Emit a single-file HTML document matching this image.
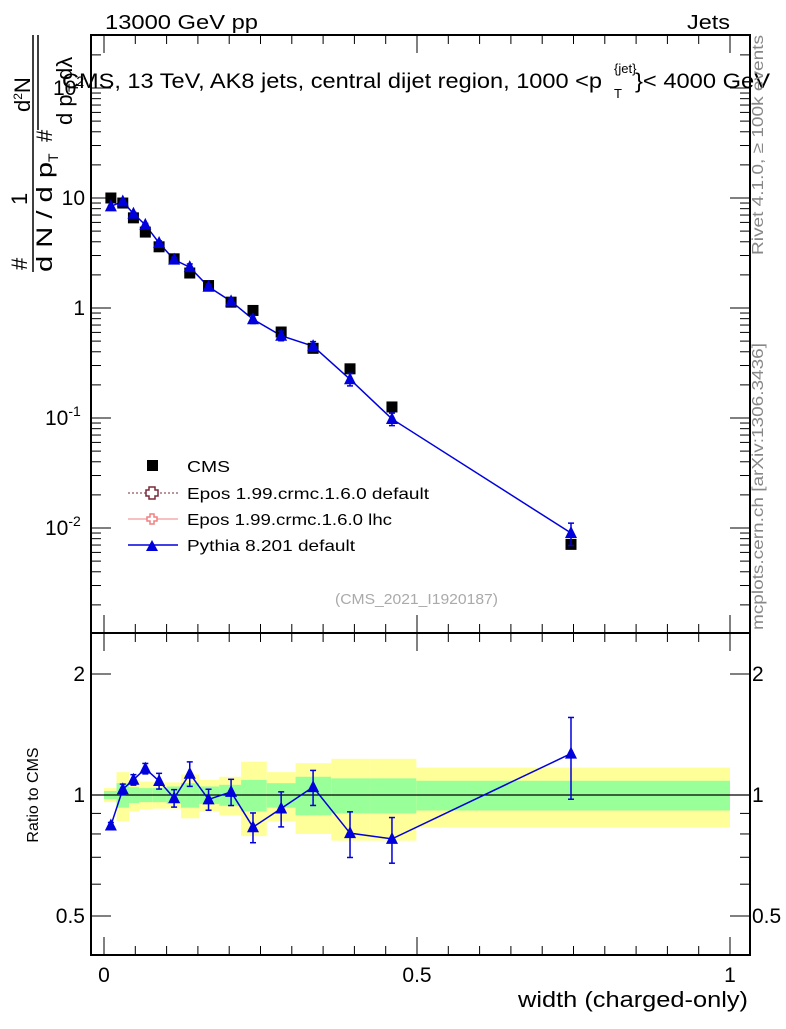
<!DOCTYPE html>
<html><head><meta charset="utf-8"><style>
body{margin:0;background:#fff;}
svg text{font-family:"Liberation Sans",sans-serif;}
</style></head><body>
<svg id="c" width="786" height="1024" xmlns="http://www.w3.org/2000/svg">
<g id="bands"></g>
<g id="grid"></g>
<g id="marks"></g>
<rect x="91" y="35" width="659" height="598" fill="none" stroke="#000" stroke-width="2"/>
<rect x="91" y="633" width="659" height="322" fill="none" stroke="#000" stroke-width="2"/>
<text x="105" y="29" font-size="20" textLength="153" lengthAdjust="spacingAndGlyphs">13000 GeV pp</text>
<text x="687" y="29" font-size="20" textLength="43" lengthAdjust="spacingAndGlyphs">Jets</text>
<text x="62" y="88" font-size="21" textLength="540" lengthAdjust="spacingAndGlyphs">CMS, 13 TeV, AK8 jets, central dijet region, 1000 &lt;p</text>
<text x="614" y="73" font-size="13">{jet}</text>
<text x="614" y="98" font-size="13">T</text>
<text x="635" y="88" font-size="21" textLength="135" lengthAdjust="spacingAndGlyphs">}&lt; 4000 GeV</text>
<g font-size="22">
<text transform="translate(27,270) rotate(-90)">#</text>
<text transform="translate(27,205) rotate(-90)">1</text>
<line x1="33" y1="272" x2="33" y2="35" stroke="#000" stroke-width="1.5"/>
<text transform="translate(52,272) rotate(-90)" textLength="110" lengthAdjust="spacingAndGlyphs">d N / d p</text>
<text transform="translate(58,162) rotate(-90)" font-size="14">T</text>
<text transform="translate(52,142) rotate(-90)">#</text>
<text transform="translate(30,112) rotate(-90)">d<tspan font-size="12" dy="-8">2</tspan><tspan dy="8">N</tspan></text>
<line x1="38" y1="130" x2="38" y2="35" stroke="#000" stroke-width="1.5"/>
<text transform="translate(72,125) rotate(-90)">d p</text>
<text transform="translate(78,92) rotate(-90)" font-size="14">T</text>
<text transform="translate(72,80) rotate(-90)">dλ</text>
</g>
<text transform="translate(763,255) rotate(-90)" font-size="16" fill="#888" textLength="220" lengthAdjust="spacingAndGlyphs">Rivet 4.1.0, ≥ 100k events</text>
<text transform="translate(763,630) rotate(-90)" font-size="16" fill="#888" textLength="287" lengthAdjust="spacingAndGlyphs">mcplots.cern.ch [arXiv:1306.3436]</text>
<text x="335" y="604" font-size="15" fill="#aaa" textLength="163" lengthAdjust="spacingAndGlyphs">(CMS_2021_I1920187)</text>
<text transform="translate(38,795) rotate(-90)" font-size="16" text-anchor="middle">Ratio to CMS</text>
<text x="518" y="1007" font-size="22" textLength="230" lengthAdjust="spacingAndGlyphs">width (charged-only)</text>
<g font-size="16">
<rect x="147" y="460" width="11" height="11" fill="#000"/>
<text x="187" y="472" textLength="43" lengthAdjust="spacingAndGlyphs">CMS</text>
<line x1="128" y1="493" x2="178" y2="493" stroke="#7a2a3a" stroke-dasharray="2,2"/>
<path d="M149 487h6v3h3v6h-3v3h-6v-3h-3v-6h3z" fill="#fff" stroke="#7a2a3a" stroke-width="1.5"/>
<text x="187" y="499" textLength="242" lengthAdjust="spacingAndGlyphs">Epos 1.99.crmc.1.6.0 default</text>
<line x1="128" y1="519" x2="178" y2="519" stroke="#f08080"/>
<path d="M150 514h4v3h3v4h-3v3h-4v-3h-3v-4h3z" fill="#fff" stroke="#f08080" stroke-width="1.5"/>
<text x="187" y="525" textLength="205" lengthAdjust="spacingAndGlyphs">Epos 1.99.crmc.1.6.0 lhc</text>
<line x1="128" y1="545" x2="178" y2="545" stroke="#0000dd" stroke-width="1.5"/>
<path d="M146 551l6-11 6 11z" fill="#0000dd"/>
<text x="187" y="551" textLength="168" lengthAdjust="spacingAndGlyphs">Pythia 8.201 default</text>
</g>
</svg>
<script>
const xVals=[0.011,0.030,0.047,0.066,0.088,0.112,0.137,0.167,0.203,0.238,0.283,0.334,0.393,0.460,0.746];
const binEdges=[0,0.02,0.04,0.056,0.078,0.1,0.123,0.152,0.184,0.219,0.26,0.306,0.363,0.425,0.499,1.0];
const cmsVals=[10,9.0,6.6,4.9,3.6,2.8,2.08,1.6,1.13,0.95,0.605,0.43,0.28,0.126,0.0071];
const pythiaVals=[8.4,9.3,7.2,5.7,3.9,2.75,2.35,1.56,1.15,0.79,0.56,0.45,0.225,0.098,0.009];
const pythiaRelErr=[0.017,0.03,0.03,0.03,0.045,0.05,0.07,0.06,0.075,0.085,0.1,0.1,0.13,0.13,0.23];
const yellowRel=[0.04,0.14,0.09,0.08,0.075,0.075,0.125,0.09,0.11,0.21,0.14,0.2,0.23,0.23,0.17];
const greenRel=[0.023,0.07,0.045,0.04,0.04,0.05,0.07,0.05,0.06,0.09,0.07,0.11,0.1,0.1,0.085];
const mainTickLabels=["10^-2","10^-1","1","10","10^2"];
const ratioTickVals=[0.5,1,2];
const xTickVals=[0,0.5,1];

const NS="http://www.w3.org/2000/svg";
const X=v=>104+v*626;
const Y=v=>308-110*Math.log10(v);
const R=v=>795-402*Math.log10(v);
function mk(tag,attrs,parent,txt){const e=document.createElementNS(NS,tag);for(const k in attrs)e.setAttribute(k,attrs[k]);if(txt!==undefined)e.textContent=txt;(parent||document.getElementById('marks')).appendChild(e);return e;}
const bands=document.getElementById('bands'),grid=document.getElementById('grid'),marks=document.getElementById('marks');
for(let i=0;i<cmsVals.length;i++){
  const x0=X(binEdges[i]),x1=X(binEdges[i+1]);
  const y=mk('rect',{x:x0,y:R(1+yellowRel[i]),width:x1-x0,height:R(1-yellowRel[i])-R(1+yellowRel[i]),fill:'#ffff99'},bands);
  
  
  const g=mk('rect',{x:x0,y:R(1+greenRel[i]),width:x1-x0,height:R(1-greenRel[i])-R(1+greenRel[i]),fill:'#99ff99'},bands);
  
  
}
mk('line',{x1:91,x2:750,y1:R(1),y2:R(1),stroke:'#000','stroke-width':1.2},grid);
for(let k=0;k<=20;k++){const v=k*0.05,x=X(v),L=(k%10==0)?18:9;
  for(const yb of [633,955]) mk('line',{x1:x,x2:x,y1:yb,y2:yb-L,stroke:'#000'},grid);
  for(const yt of [35,633]) mk('line',{x1:x,x2:x,y1:yt,y2:yt+L,stroke:'#000'},grid);
}
xTickVals.forEach(v=>{const t=mk('text',{x:X(v),y:982,'font-size':21,'text-anchor':'middle'},grid,String(v));
  
  });
for(let d=-3;d<=2;d++){for(let m=1;m<10;m++){const v=m*Math.pow(10,d),y=Y(v);if(y<35||y>633)continue;const L=m==1?20:10;
  mk('line',{x1:91,x2:91+L,y1:y,y2:y,stroke:'#000'},grid);mk('line',{x1:750,x2:750-L,y1:y,y2:y,stroke:'#000'},grid);}}
mainTickLabels.forEach((s,i)=>{const d=i-2,y=Y(Math.pow(10,d))+7;const t=mk('text',{x:85,y:y,'font-size':21,'text-anchor':'end'},grid);
  
  
  if(s.includes('^')){const p=s.split('^');t.textContent=p[0];const sp=document.createElementNS(NS,'tspan');sp.setAttribute('font-size','14');sp.setAttribute('dy','-9');sp.textContent=p[1];t.appendChild(sp);
    t.removeAttribute('text-anchor');t.setAttribute('x',85-24-p[1].length*8);}
  else t.textContent=s;});
[0.5,0.6,0.7,0.8,0.9,1,2].forEach(v=>{const y=R(v);const L=(v==0.5||v==1||v==2)?20:10;
  mk('line',{x1:91,x2:91+L,y1:y,y2:y,stroke:'#000'},grid);mk('line',{x1:750,x2:750-L,y1:y,y2:y,stroke:'#000'},grid);});
ratioTickVals.forEach(v=>{const a=mk('text',{x:85,y:R(v)+7,'font-size':21,'text-anchor':'end'},grid,String(v));
  
  
  const b=mk('text',{x:752,y:R(v)+7,'font-size':21},grid,String(v));
  
  });
const blue='#0000dd';
let pm='',pr='';
xVals.forEach((x,i)=>{pm+=(i?'L':'M')+X(x)+' '+Y(pythiaVals[i]);pr+=(i?'L':'M')+X(x)+' '+R(pythiaVals[i]/cmsVals[i]);});
const l1=mk('path',{d:pm,fill:'none',stroke:blue,'stroke-width':1.5});


const l2=mk('path',{d:pr,fill:'none',stroke:blue,'stroke-width':1.5});


function tri(cx,cy,name){const t=mk('path',{d:`M${cx-6} ${cy+5}L${cx} ${cy-7}L${cx+6} ${cy+5}Z`,fill:blue});
  
  }
function err(x,y1,y2){mk('line',{x1:x,x2:x,y1:y1,y2:y2,stroke:blue,'stroke-width':1.5});
  mk('line',{x1:x-3,x2:x+3,y1:y1,y2:y1,stroke:blue,'stroke-width':1.5});mk('line',{x1:x-3,x2:x+3,y1:y2,y2:y2,stroke:blue,'stroke-width':1.5});}
xVals.forEach((xv,i)=>{const x=X(xv);
  const s=mk('rect',{x:x-5.5,y:Y(cmsVals[i])-5.5,width:11,height:11,fill:'#000'});
  
  
  const p=pythiaVals[i],e=pythiaRelErr[i];
  err(x,Y(p*(1+e)),Y(p*(1-e)));tri(x,Y(p),'pythia-point');
  const r=p/cmsVals[i];err(x,R(r*(1+e)),R(r*(1-e)));tri(x,R(r),'pythia-ratio-point');
});
</script>
</body></html>
